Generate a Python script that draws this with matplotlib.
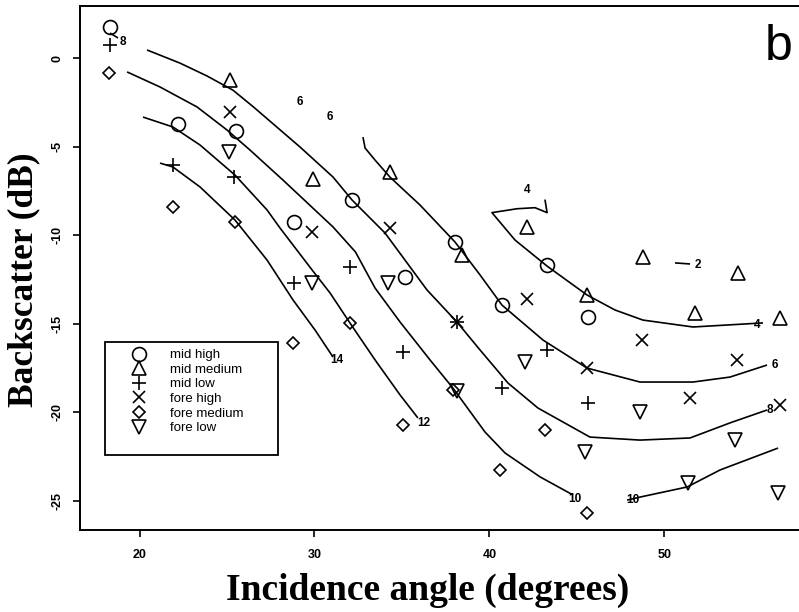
import matplotlib
matplotlib.use('Agg')
import matplotlib.pyplot as plt
from matplotlib.patches import Rectangle

# ---------------- data (incidence angle in degrees, backscatter in dB) ----------------
mid_high_x = [18.31, 22.20, 25.51, 28.83, 32.14, 35.17, 38.03, 40.71, 43.29, 45.63]
mid_high_y = [1.77, -3.71, -4.11, -9.25, -8.00, -12.36, -10.38, -13.94, -11.68, -14.62]

mid_medium_x = [25.17, 29.91, 34.31, 38.43, 42.14, 45.57, 48.77, 51.74, 54.20, 56.60]
mid_medium_y = [-1.23, -6.82, -6.42, -11.11, -9.53, -13.37, -11.23, -14.39, -12.13, -14.67]

mid_low_x = [18.31, 21.91, 25.40, 28.83, 32.03, 35.06, 38.14, 40.71, 43.29, 45.63]
mid_low_y = [0.75, -6.03, -6.71, -12.69, -11.79, -16.59, -14.90, -18.63, -16.48, -19.47]

fore_high_x = [25.17, 29.86, 34.31, 38.14, 42.14, 45.57, 48.71, 51.46, 54.14, 56.60]
fore_high_y = [-3.04, -9.80, -9.59, -14.90, -13.60, -17.50, -15.92, -19.19, -17.04, -19.59]

fore_medium_x = [18.26, 21.91, 25.46, 28.77, 32.03, 35.06, 37.91, 40.60, 43.17, 45.57]
fore_medium_y = [-0.83, -8.40, -9.25, -16.09, -14.96, -20.72, -18.74, -23.26, -21.00, -25.69]

fore_low_x = [25.11, 29.86, 34.20, 38.14, 42.03, 45.46, 48.60, 51.34, 54.03, 56.49]
fore_low_y = [-5.29, -12.69, -12.69, -18.80, -17.16, -22.24, -19.98, -24.00, -21.57, -24.56]

series_labels = ["mid high", "mid medium", "mid low", "fore high", "fore medium", "fore low"]

# contour lines
c8_x = [20.43, 22.31, 23.86, 25.34, 26.49, 29.17, 31.06, 32.14, 34.03, 36.43, 38.14,
        39.46, 41.06, 42.77, 45.74, 48.60, 51.46, 53.74, 55.86]
c8_y = [0.47, -0.27, -1.00, -1.80, -2.73, -5.01, -6.71, -8.00, -9.87, -13.09, -14.90,
        -16.48, -18.35, -19.76, -21.40, -21.57, -21.45, -20.60, -19.87]

c6_x = [32.77, 32.89, 33.46, 34.31, 36.03, 38.03, 39.46, 40.71, 43.06, 45.57, 48.60,
        51.63, 53.74, 55.86]
c6_y = [-4.45, -5.07, -5.75, -6.71, -8.29, -10.38, -12.24, -13.94, -15.92, -17.50,
        -18.29, -18.29, -18.01, -17.33]

c4_x = [43.17, 43.29, 42.60, 41.57, 40.14, 41.46, 43.29, 45.57, 47.17, 48.77, 51.63, 55.63]
c4_y = [-7.98, -8.72, -8.44, -8.50, -8.72, -10.27, -11.74, -13.37, -14.22, -14.79,
        -15.18, -14.95]

c10a_x = [19.29, 21.17, 23.29, 25.00, 26.31, 28.20, 31.06, 32.34, 33.46, 34.89, 36.60,
          37.91, 39.74, 40.89, 42.89, 44.77]
c10a_y = [-0.77, -1.62, -2.75, -4.05, -5.18, -6.88, -9.53, -10.94, -12.98, -14.90,
          -17.04, -18.63, -21.11, -22.30, -23.65, -24.67]

c12_x = [20.20, 21.91, 23.46, 25.46, 27.29, 28.03, 29.91, 30.89, 32.03, 33.46, 34.89, 35.91]
c12_y = [-3.32, -3.88, -4.90, -6.60, -8.57, -9.59, -12.02, -13.26, -14.96, -17.04,
         -19.02, -20.32]

c14_x = [21.17, 21.91, 23.46, 25.46, 27.29, 28.77, 30.03, 31.06]
c14_y = [-5.92, -6.14, -7.27, -9.14, -11.40, -13.65, -15.35, -16.88]

c10b_x = [47.86, 48.60, 51.29, 53.17, 56.49]
c10b_y = [-24.96, -24.79, -24.22, -23.26, -22.02]

c2_x = [50.60, 51.46]
c2_y = [-11.56, -11.62]

c8s_x = [18.31, 18.77]
c8s_y = [1.43, 1.15]

label_text = ["8", "6", "6", "4", "2", "4", "6", "8", "14", "12", "10", "10"]
label_x = [19.06, 29.17, 30.89, 42.14, 51.90, 55.29, 56.31, 56.03, 31.29, 36.26, 44.87, 48.20]
label_y = [0.92, -2.47, -3.32, -7.44, -11.68, -15.07, -17.33, -19.87, -17.04, -20.60, -24.90, -24.96]

x_ticks = [20, 30, 40, 50]
y_ticks = [0, -5, -10, -15, -20, -25]

# ---------------- figure ----------------
W, H = 799, 612
fig = plt.figure(figsize=(W / 100, H / 100), dpi=100)
ax = fig.add_axes([80 / W, 1 - 530 / H, (806 - 80) / W, (530 - 6) / H])
ax.set_xlim(16.6, 20 + (806 - 139.5) / 17.5)
ax.set_ylim(-(530 - 58.3) / 17.7, (58.3 - 6) / 17.7)

lw_line = 1.2
for cx, cy in [(c8_x, c8_y), (c6_x, c6_y), (c4_x, c4_y), (c10a_x, c10a_y),
               (c12_x, c12_y), (c14_x, c14_y), (c10b_x, c10b_y), (c2_x, c2_y),
               (c8s_x, c8s_y)]:
    ax.plot(cx, cy, color='black', lw=lw_line, solid_capstyle='butt', zorder=2)

for t, lx, ly in zip(label_text, label_x, label_y):
    ax.text(lx, ly, t, fontsize=8.5, fontweight='bold', family='Liberation Sans',
            ha='center', va='center', zorder=3)

mk = dict(ls='none', mfc='none', mec='black', mew=1.2, color='black', zorder=4)
styles = [('o', 10), ('^', 9.5), ('+', 10.5), ('x', 8.5), ('D', 5.8), ('v', 9.5)]
data = [(mid_high_x, mid_high_y), (mid_medium_x, mid_medium_y), (mid_low_x, mid_low_y),
        (fore_high_x, fore_high_y), (fore_medium_x, fore_medium_y), (fore_low_x, fore_low_y)]
handles = []
for (sx, sy), (m, s), lab in zip(data, styles, series_labels):
    h, = ax.plot(sx, sy, marker=m, ms=s, label=lab, **mk)
    handles.append(h)

# axes styling
for side in ['top', 'bottom', 'left', 'right']:
    ax.spines[side].set_linewidth(1.4)
ax.set_xticks(x_ticks)
ax.set_yticks(y_ticks)
ax.set_xticklabels([str(v) for v in x_ticks], fontsize=9, fontweight='bold',
                   family='Liberation Sans')
ax.set_yticklabels([str(v) for v in y_ticks], fontsize=9, fontweight='bold',
                   family='Liberation Sans', rotation=90, va='center')
ax.tick_params(axis='x', length=5, width=1.2, pad=9, direction='out')
ax.tick_params(axis='y', length=5, width=1.2, pad=7, direction='out')

ax.set_xlabel('Incidence angle (degrees)', fontsize=27, fontweight='bold',
              family='Liberation Serif')
ax.xaxis.set_label_coords((428 - 80) / 726, -(573 - 530) / 524)
ax.set_ylabel('Backscatter (dB)', fontsize=25.5, fontweight='bold',
              family='Liberation Serif')
ax.yaxis.set_label_coords(-(80 - 40) / 726, (530 - 280) / 524)

fig.text(779 / W, 1 - 47 / H, 'b', fontsize=36, family='Liberation Sans',
         ha='center', va='center')

# legend
fig.patches.append(Rectangle((105 / W, 1 - 455 / H), (278 - 105) / W, (455 - 342) / H,
                             transform=fig.transFigure, fill=False, ec='black', lw=1.3))
leg = ax.legend(handles=handles, loc='upper left', bbox_to_anchor=(132 / W, 1 - 349 / H),
                bbox_transform=fig.transFigure, frameon=False, borderpad=0,
                borderaxespad=0, handlelength=1.0, handletextpad=1.9, labelspacing=0.18,
                prop={'family': 'Liberation Sans', 'size': 9.5})

fig.savefig('out.png', dpi=100)
